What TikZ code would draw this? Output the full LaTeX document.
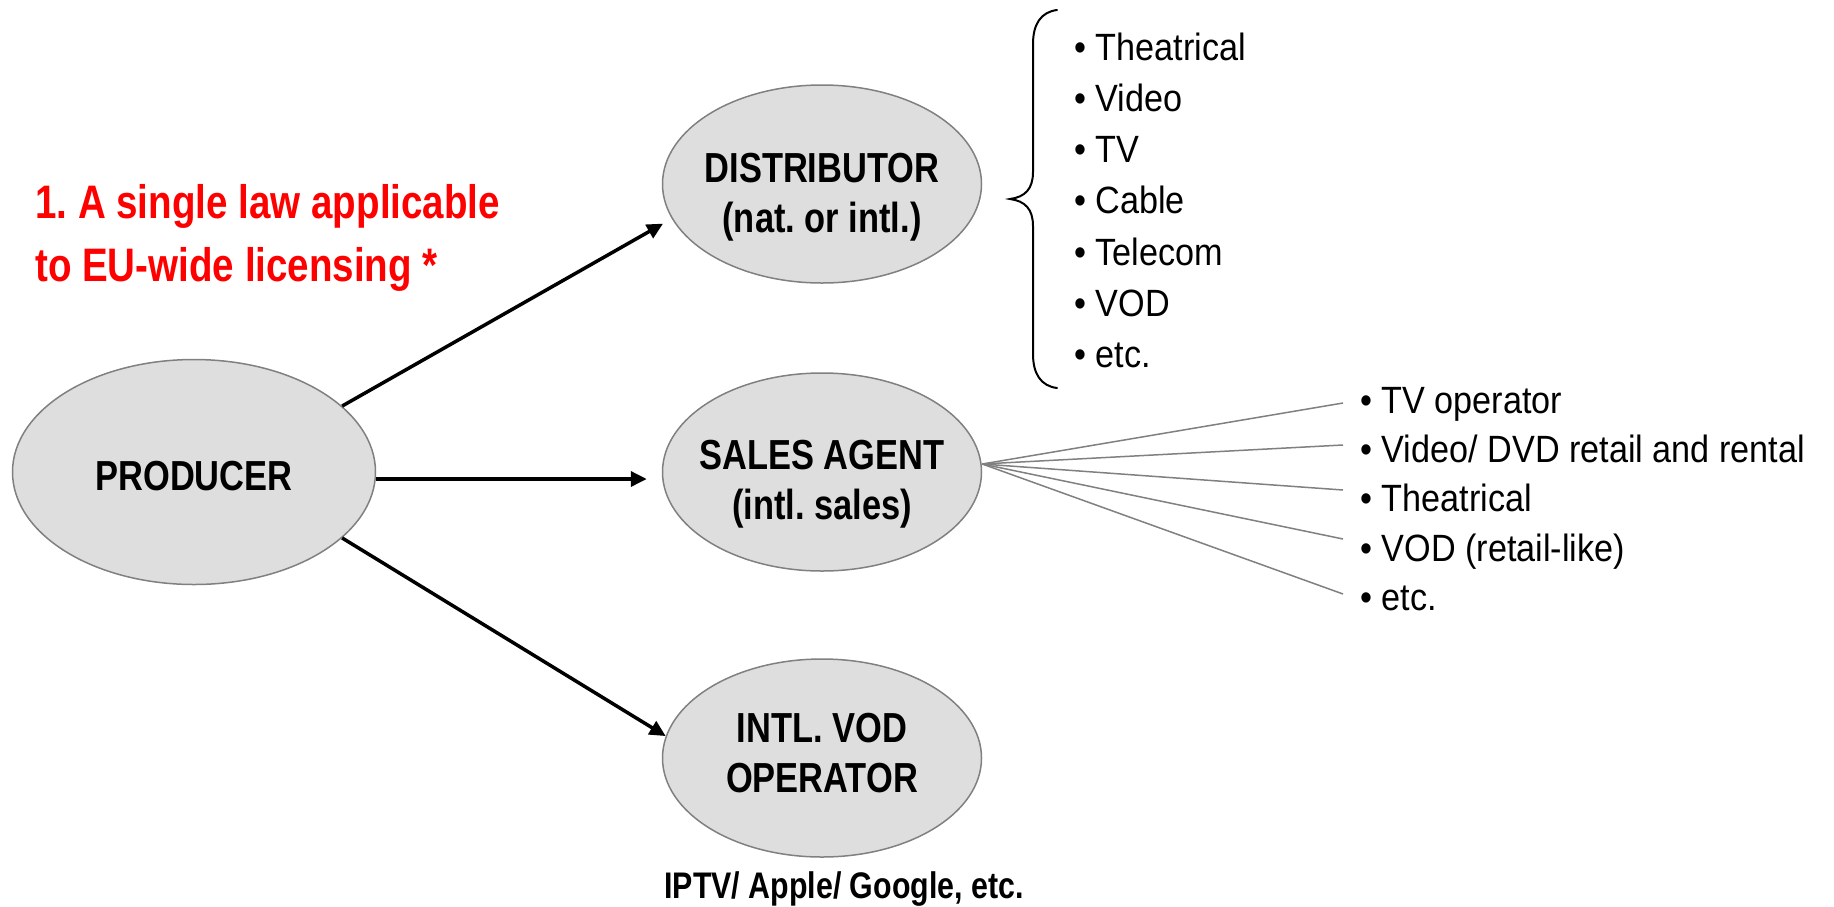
\documentclass[tikz,border=0pt]{standalone}
\usepackage{fontspec}
\setmainfont{Liberation Sans}
\newfontfamily\boldnarrow[FakeStretch=0.82]{Liberation Sans}
\newfontfamily\regnarrow[FakeStretch=0.9]{Liberation Sans}
\usetikzlibrary{arrows.meta,shapes.geometric}
\frenchspacing
\begin{document}
\begin{tikzpicture}[x=1pt,y=-1pt,
  oval/.style={ellipse, draw=black!50, line width=1.5pt, fill=black!13, minimum width=319pt, minimum height=198pt, inner sep=0pt},
  ovaltext/.style={font=\boldnarrow\bfseries\fontsize{42}{50}\selectfont, align=center, inner sep=0pt},
  subtext/.style={font=\boldnarrow\bfseries\fontsize{37}{44}\selectfont, anchor=base, inner sep=0pt},
  arr/.style={line width=3.5pt, -{Triangle[length=16pt,width=15pt]}},
  fan/.style={draw=black!50, line width=1.5pt},
  item/.style={font=\regnarrow\fontsize{38}{46}\selectfont, anchor=base west, inner sep=0pt},
  redtxt/.style={font=\boldnarrow\bfseries\fontsize{47}{56}\selectfont, text=red, anchor=base west, inner sep=0pt},
  bracepath/.style={line width=2pt, line cap=round}
]
\useasboundingbox (0,0) rectangle (1834,906);

% ellipses
\node[oval, minimum width=363pt, minimum height=225pt] (prod) at (194,472) {};
\node[oval] (dist) at (822,184) {};
\node[oval] (sales) at (822,472) {};
\node[oval] (vod) at (822,758) {};

% texts in ellipses
\node[ovaltext] (prodT) at (194,476) {PRODUCER};
\node[ovaltext] (distT) at (822,197) {DISTRIBUTOR\\(nat. or intl.)};
\node[ovaltext] (salesT) at (822,484) {SALES AGENT\\(intl. sales)};
\node[ovaltext] (vodT) at (822,753) {INTL. VOD\\OPERATOR};
\node[subtext] (iptv) at (844,898) {IPTV/ Apple/ Google, etc.};

% red heading
\node[redtxt] (red1) at (35,218) {1. A single law applicable};
\node[redtxt] (red2) at (35,281) {to EU-wide licensing *};

% arrows
\draw[arr, shorten >=10pt] (prod.24) -- (dist.193);
\draw[arr, shorten >=15pt] ([yshift=-7pt]prod.east) -- ([yshift=-7pt]sales.west);
\draw[arr] (prod.-24) -- (vod.172);

% distributor list with brace
\draw[bracepath] (1057,10) .. controls (1041,12) and (1033,24) .. (1033,44)
  -- (1033,172) .. controls (1033,189) and (1025,197) .. (1010,199)
  .. controls (1025,201) and (1033,209) .. (1033,226)
  -- (1033,354) .. controls (1033,374) and (1041,386) .. (1057,388);
\node[item] (d1) at (1074,60) {• Theatrical};
\node[item] (d2) at (1074,111) {• Video};
\node[item] (d3) at (1074,162) {• TV};
\node[item] (d4) at (1074,213) {• Cable};
\node[item] (d5) at (1074,265) {• Telecom};
\node[item] (d6) at (1074,316) {• VOD};
\node[item] (d7) at (1074,367) {• etc.};

% sales list with fan
\node[item] (s1) at (1360,413) {• TV operator};
\node[item] (s2) at (1360,462) {• Video/ DVD retail and rental};
\node[item] (s3) at (1360,511) {• Theatrical};
\node[item] (s4) at (1360,561) {• VOD (retail-like)};
\node[item] (s5) at (1360,610) {• etc.};
\coordinate (fo) at ([yshift=8pt]sales.east);
\coordinate (e1) at (1343,403);
\coordinate (e2) at (1343,445);
\coordinate (e3) at (1343,490);
\coordinate (e4) at (1343,539);
\coordinate (e5) at (1343,594);
\draw[fan] (fo) -- (e1);
\draw[fan] (fo) -- (e2);
\draw[fan] (fo) -- (e3);
\draw[fan] (fo) -- (e4);
\draw[fan] (fo) -- (e5);
\end{tikzpicture}
\end{document}
